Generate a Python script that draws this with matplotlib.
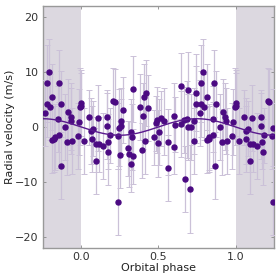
import numpy as np
import matplotlib
matplotlib.use("Agg")
import matplotlib.pyplot as plt

# phase-folded radial velocity data (phase in [0,1))
phase = [0.000, 0.002, 0.020, 0.054, 0.067, 0.078, 0.071, 0.093, 0.093, 0.106,
         0.115, 0.140, 0.165, 0.167, 0.171, 0.175, 0.184, 0.208, 0.219, 0.236,
         0.240, 0.245, 0.253, 0.255, 0.258, 0.273, 0.305, 0.310, 0.323, 0.323,
         0.331, 0.333, 0.338, 0.379, 0.392, 0.400, 0.405, 0.416, 0.422, 0.430,
         0.474, 0.483, 0.490, 0.496, 0.504, 0.517, 0.535, 0.560, 0.565, 0.604,
         0.606, 0.604, 0.647, 0.647, 0.664, 0.675, 0.686, 0.693, 0.690, 0.708,
         0.712, 0.730, 0.734, 0.742, 0.747, 0.768, 0.779, 0.779, 0.790, 0.797,
         0.812, 0.814, 0.825, 0.829, 0.851, 0.855, 0.859, 0.868, 0.872, 0.898,
         0.911, 0.916, 0.933, 0.937, 0.942, 0.980, 0.985, 0.994]
rv = [3.8, 4.3, -2.5, 1.8, -0.7, -0.3, -2.2, -3.1, -6.1, 1.6,
      -3.1, -3.5, 1.8, 0.1, -2.7, -4.5, -1.5, 4.8, 4.6, -1.6,
      -13.7, -0.1, -5.0, 0.1, 1.1, 3.0, -3.9, -4.9, -0.9, -6.8,
      -1.8, 6.9, -5.3, 3.6, -4.2, 2.0, 5.5, -2.5, 6.1, 3.5,
      -1.9, 0.7, 1.3, -3.0, -0.85, 1.6, 1.0, -2.7, -7.5, 2.0,
      0.4, -3.6, 7.5, 0.5, 1.3, -9.5, 1.4, 6.7, -0.05, -11.2,
      -0.05, -2.5, 1.1, 4.1, 6.2, 2.5, 7.9, 4.1, 9.9, 3.7,
      -2.4, 5.4, -2.1, -1.8, 1.4, -1.5, 7.9, -7.0, 4.1, -0.05,
      -2.7, 2.8, 1.9, 1.1, -2.6, -1.6, 0.9, 3.7]
rv_err = [6, 6, 6, 5, 6, 5, 6, 5, 6, 6,
          5, 6, 5, 6, 5, 6, 5, 6, 6, 6,
          6, 7, 6, 5, 6, 6, 5, 6, 6, 5,
          6, 6, 5, 6, 5, 6, 6, 6, 6, 6,
          5, 5, 6, 6, 6, 5, 6, 6, 6, 6,
          5, 5, 6, 6, 6, 6, 7, 7, 6, 8,
          6, 6, 6, 7, 7, 6, 7, 6, 6, 6,
          6, 6, 6, 6, 6, 6, 6, 6, 6, 6,
          6, 6, 6, 6, 6, 6, 6, 7]

# circular orbit model
K = 1.5
phase_extra = 0.25

x_min, x_max = -phase_extra, 1 + phase_extra
y_min, y_max = -22, 22

phase = np.array(phase)
rv = np.array(rv)
rv_err = np.array(rv_err)

lo = phase > 1 - phase_extra
hi = phase < phase_extra
ph_all = np.concatenate([phase, phase[lo] - 1, phase[hi] + 1])
rv_all = np.concatenate([rv, rv[lo], rv[hi]])
err_all = np.concatenate([rv_err, rv_err[lo], rv_err[hi]])

fig = plt.figure(figsize=(2.8, 2.8), dpi=100)
ax = fig.add_axes([0.152, 0.114, 0.827, 0.865])

ax.axvspan(x_min, 0, color="#dcd8e0", lw=0, zorder=0)
ax.axvspan(1, x_max, color="#dcd8e0", lw=0, zorder=0)

ax.errorbar(ph_all, rv_all, yerr=err_all, fmt="o", ms=3.6, color="#4b0a82",
            ecolor="#cbc1d8", elinewidth=0.9, capsize=2.2, capthick=0.7,
            zorder=3)

mph = np.linspace(x_min, x_max, 400)
ax.plot(mph, -K * np.sin(2 * np.pi * mph), color="#5a1a8e", lw=1.0, zorder=4)

ax.set_xlim(x_min, x_max)
ax.set_ylim(y_min, y_max)
ax.set_xticks([0.0, 0.5, 1.0])
ax.set_yticks([-20, -10, 0, 10, 20])
ax.set_xlabel("Orbital phase", fontsize=8, color="#222222")
ax.set_ylabel("Radial velocity (m/s)", fontsize=8, color="#222222")
ax.yaxis.set_label_coords(-0.118, 0.5)
ax.xaxis.set_label_coords(0.5, -0.062)
ax.tick_params(axis="both", labelsize=8, length=2.5, width=0.6, color="#888888",
               labelcolor="#333333", direction="in", pad=3)
ax.tick_params(top=True, right=True, which="both")
for s in ax.spines.values():
    s.set_color("#999999")
    s.set_linewidth(1.0)

fig.savefig("out.png", dpi=100)
